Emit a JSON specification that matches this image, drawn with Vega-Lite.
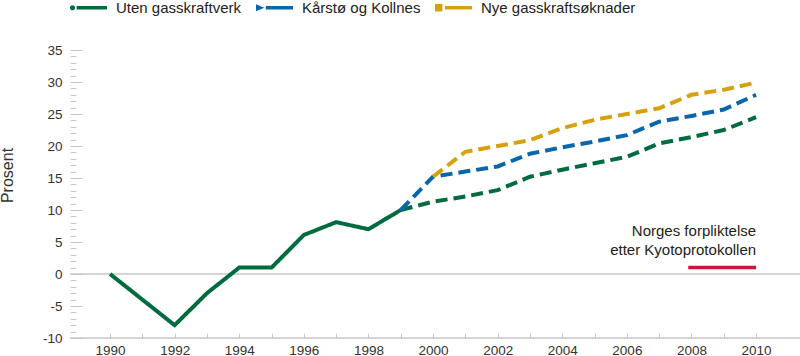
{
  "$schema": "https://vega.github.io/schema/vega-lite/v6.json",
  "autosize": "none",
  "width": 730,
  "height": 288,
  "padding": {"left": 70, "top": 50, "right": 0, "bottom": 18},
  "background": "white",
  "config": {
    "view": {"stroke": null},
    "font": "Liberation Sans",
    "axis": {"labelFont": "Liberation Sans", "titleFont": "Liberation Sans", "labelColor": "#333", "titleColor": "#333", "titleFontWeight": "normal", "grid": false, "domain": false, "tickColor": "#c8c8c8", "tickWidth": 1},
    "legend": {"labelFont": "Liberation Sans", "labelFontSize": 15, "labelColor": "#222", "symbolStrokeWidth": 0}
  },
  "datasets": {
    "lines": [
      {"series": "Uten gasskraftverk", "seg": "solid", "year": 1990, "value": 0},
      {"series": "Uten gasskraftverk", "seg": "solid", "year": 1991, "value": -4},
      {"series": "Uten gasskraftverk", "seg": "solid", "year": 1992, "value": -8},
      {"series": "Uten gasskraftverk", "seg": "solid", "year": 1993, "value": -3},
      {"series": "Uten gasskraftverk", "seg": "solid", "year": 1994, "value": 1},
      {"series": "Uten gasskraftverk", "seg": "solid", "year": 1995, "value": 1},
      {"series": "Uten gasskraftverk", "seg": "solid", "year": 1996, "value": 6.1},
      {"series": "Uten gasskraftverk", "seg": "solid", "year": 1997, "value": 8.1},
      {"series": "Uten gasskraftverk", "seg": "solid", "year": 1998, "value": 7},
      {"series": "Uten gasskraftverk", "seg": "solid", "year": 1999, "value": 10},
      {"series": "Uten gasskraftverk", "seg": "dashed", "year": 1999, "value": 10},
      {"series": "Uten gasskraftverk", "seg": "dashed", "year": 2000, "value": 11.3},
      {"series": "Uten gasskraftverk", "seg": "dashed", "year": 2001, "value": 12.1},
      {"series": "Uten gasskraftverk", "seg": "dashed", "year": 2002, "value": 13.1},
      {"series": "Uten gasskraftverk", "seg": "dashed", "year": 2003, "value": 15.2},
      {"series": "Uten gasskraftverk", "seg": "dashed", "year": 2004, "value": 16.3},
      {"series": "Uten gasskraftverk", "seg": "dashed", "year": 2005, "value": 17.3},
      {"series": "Uten gasskraftverk", "seg": "dashed", "year": 2006, "value": 18.3},
      {"series": "Uten gasskraftverk", "seg": "dashed", "year": 2007, "value": 20.4},
      {"series": "Uten gasskraftverk", "seg": "dashed", "year": 2008, "value": 21.4},
      {"series": "Uten gasskraftverk", "seg": "dashed", "year": 2009, "value": 22.5},
      {"series": "Uten gasskraftverk", "seg": "dashed", "year": 2010, "value": 24.5},
      {"series": "Kårstø og Kollnes", "seg": "dashed", "year": 1999, "value": 10},
      {"series": "Kårstø og Kollnes", "seg": "dashed", "year": 2000, "value": 15.2},
      {"series": "Kårstø og Kollnes", "seg": "dashed", "year": 2001, "value": 16},
      {"series": "Kårstø og Kollnes", "seg": "dashed", "year": 2002, "value": 16.8},
      {"series": "Kårstø og Kollnes", "seg": "dashed", "year": 2003, "value": 18.8},
      {"series": "Kårstø og Kollnes", "seg": "dashed", "year": 2004, "value": 19.8},
      {"series": "Kårstø og Kollnes", "seg": "dashed", "year": 2005, "value": 20.7},
      {"series": "Kårstø og Kollnes", "seg": "dashed", "year": 2006, "value": 21.7},
      {"series": "Kårstø og Kollnes", "seg": "dashed", "year": 2007, "value": 23.8},
      {"series": "Kårstø og Kollnes", "seg": "dashed", "year": 2008, "value": 24.7},
      {"series": "Kårstø og Kollnes", "seg": "dashed", "year": 2009, "value": 25.7},
      {"series": "Kårstø og Kollnes", "seg": "dashed", "year": 2010, "value": 28},
      {"series": "Nye gasskraftsøknader", "seg": "dashed", "year": 2000, "value": 15.2},
      {"series": "Nye gasskraftsøknader", "seg": "dashed", "year": 2001, "value": 19.1},
      {"series": "Nye gasskraftsøknader", "seg": "dashed", "year": 2002, "value": 20},
      {"series": "Nye gasskraftsøknader", "seg": "dashed", "year": 2003, "value": 20.9},
      {"series": "Nye gasskraftsøknader", "seg": "dashed", "year": 2004, "value": 22.8},
      {"series": "Nye gasskraftsøknader", "seg": "dashed", "year": 2005, "value": 24.1},
      {"series": "Nye gasskraftsøknader", "seg": "dashed", "year": 2006, "value": 25},
      {"series": "Nye gasskraftsøknader", "seg": "dashed", "year": 2007, "value": 25.9},
      {"series": "Nye gasskraftsøknader", "seg": "dashed", "year": 2008, "value": 28},
      {"series": "Nye gasskraftsøknader", "seg": "dashed", "year": 2009, "value": 28.8},
      {"series": "Nye gasskraftsøknader", "seg": "dashed", "year": 2010, "value": 29.9}
    ],
    "target": [{"year": 2007.9, "year2": 2010, "value": 1}],
    "notes": [
      {"label": "Norges forpliktelse", "year": 2010, "value": 5.94},
      {"label": "etter Kyotoprotokollen", "year": 2010, "value": 2.97}
    ],
    "refs": [{"level": 0}, {"level": -10}]
  },
  "resolve": {"scale": {"y": "shared", "x": "shared"}, "axis": {"y": "independent"}},
  "layer": [
    {
      "data": {"name": "refs"},
      "mark": {"type": "rule", "color": "#c8c8c8", "strokeWidth": 1},
      "encoding": {
        "y": {"field": "level", "type": "quantitative",
          "scale": {"domain": [-10, 35], "nice": false, "zero": false},
          "axis": {"orient": "left", "values": [-10, -5, 0, 5, 10, 15, 20, 25, 30, 35], "offset": -12, "tickSize": 12, "labelPadding": 8, "labelFontSize": 13.5, "labelExpr": "'' + datum.value",
            "title": "Prosent", "titleFontSize": 16, "titleAngle": -90, "titleX": -75, "titleY": 125, "titleAlign": "center", "titleBaseline": "middle"}}
      }
    },
    {
      "data": {"name": "refs"},
      "mark": {"type": "rule", "color": "#c8c8c8", "strokeWidth": 1},
      "encoding": {
        "y": {"field": "level", "type": "quantitative",
          "axis": {"orient": "left", "values": [-10,-9,-8,-7,-6,-5,-4,-3,-2,-1,0,1,2,3,4,5,6,7,8,9,10,11,12,13,14,15,16,17,18,19,20,21,22,23,24,25,26,27,28,29,30,31,32,33,34,35], "offset": -6, "tickSize": 6, "labels": false, "title": null}}
      }
    },
    {
      "data": {"name": "lines"},
      "mark": {"type": "line", "strokeWidth": 4, "strokeCap": "butt"},
      "encoding": {
        "x": {"field": "year", "type": "quantitative",
          "scale": {"domain": [1988.76, 2011.36], "nice": false, "zero": false},
          "axis": {"values": [1990,1991,1992,1993,1994,1995,1996,1997,1998,1999,2000,2001,2002,2003,2004,2005,2006,2007,2008,2009,2010], "labelExpr": "datum.value % 2 === 0 ? '' + datum.value : ''", "labelOverlap": false, "labelFlush": false, "offset": -5, "tickSize": 5, "labelPadding": 5, "labelFontSize": 13.5, "title": null}},
        "y": {"field": "value", "type": "quantitative", "axis": null},
        "color": {"field": "series", "type": "nominal",
          "scale": {"domain": ["Uten gasskraftverk", "Kårstø og Kollnes", "Nye gasskraftsøknader"], "range": ["#006B3F", "#0867AA", "#D7A10E"]},
          "legend": {"title": null, "orient": "none", "direction": "horizontal", "legendX": 0, "legendY": -61, "padding": 0,
            "symbolSize": 1369, "labelOffset": 9, "columnPadding": 14, "labelFontSize": 15,
            "encode": {"symbols": {"update": {
              "fill": {"scale": "color", "field": "value"},
              "strokeWidth": {"value": 0},
              "shape": {"signal": "datum.value === 'Uten gasskraftverk' ? 'M-1.005,0 A0.14,0.14 0 1,0 -0.725,0 A0.14,0.14 0 1,0 -1.005,0 Z M-0.64,-0.095 L1,-0.095 L1,0.095 L-0.64,0.095 Z' : datum.value === 'Kårstø og Kollnes' ? 'M-1,-0.19 L-0.55,0 L-1,0.19 Z M-0.47,-0.095 L1,-0.095 L1,0.095 L-0.47,0.095 Z' : 'M-1,-0.2 L-0.6,-0.2 L-0.6,0.2 L-1,0.2 Z M-0.46,-0.095 L1,-0.095 L1,0.095 L-0.46,0.095 Z'"}
            }}}}},
        "strokeDash": {"field": "seg", "type": "nominal", "scale": {"domain": ["solid", "dashed"], "range": [[1, 0], [12, 6]]}, "legend": null}
      }
    },
    {
      "data": {"name": "target"},
      "mark": {"type": "rule", "color": "#D2123C", "strokeWidth": 3.5},
      "encoding": {
        "x": {"field": "year", "type": "quantitative",
          "axis": {"values": [1990,1991,1992,1993,1994,1995,1996,1997,1998,1999,2000,2001,2002,2003,2004,2005,2006,2007,2008,2009,2010], "labelExpr": "datum.value % 2 === 0 ? '' + datum.value : ''", "labelOverlap": false, "labelFlush": false, "offset": -5, "tickSize": 5, "labelPadding": 5, "labelFontSize": 13.5, "title": null}},
        "x2": {"field": "year2"},
        "y": {"field": "value", "type": "quantitative", "axis": null}
      }
    },
    {
      "data": {"name": "notes"},
      "mark": {"type": "text", "align": "right", "baseline": "alphabetic", "fontSize": 15, "color": "#222"},
      "encoding": {
        "x": {"field": "year", "type": "quantitative",
          "axis": {"values": [1990,1991,1992,1993,1994,1995,1996,1997,1998,1999,2000,2001,2002,2003,2004,2005,2006,2007,2008,2009,2010], "labelExpr": "datum.value % 2 === 0 ? '' + datum.value : ''", "labelOverlap": false, "labelFlush": false, "offset": -5, "tickSize": 5, "labelPadding": 5, "labelFontSize": 13.5, "title": null}},
        "y": {"field": "value", "type": "quantitative", "axis": null},
        "text": {"field": "label"}
      }
    }
  ]
}
